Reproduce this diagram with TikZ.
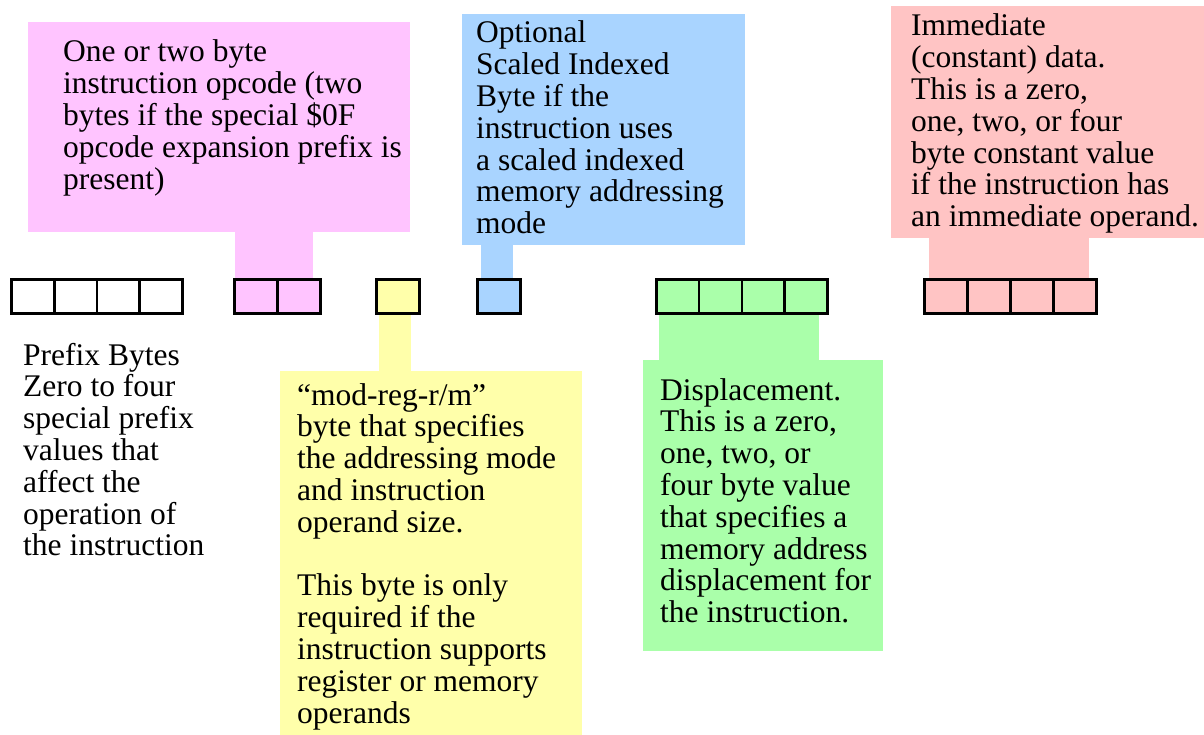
\documentclass[tikz,border=0pt]{standalone}
\usepackage{fontspec}
\setmainfont{Liberation Serif}
\definecolor{cpink}{HTML}{FFC4FF}
\definecolor{cblue}{HTML}{A9D4FF}
\definecolor{cyellow}{HTML}{FFFFAA}
\definecolor{cgreen}{HTML}{AAFFAA}
\definecolor{cred}{HTML}{FFC4C4}
\tikzset{
  bytecell/.style={draw=black, line width=2.5pt, minimum width=43pt, minimum height=34pt, inner sep=0pt, anchor=north west},
  panel/.style={inner sep=0pt, anchor=north west},
  txt/.style={anchor=base west, inner sep=0pt, font=\fontsize{31.5}{31.8}\selectfont},
}
\newcommand{\ptext}[2]{\parbox[t]{#1}{\raggedright #2}}
\begin{document}
\begin{tikzpicture}[x=1pt,y=-1pt]
\useasboundingbox (0,0) rectangle (1204,735);
% callout panels
\node[panel, fill=cpink, minimum width=382pt, minimum height=210pt] (pinkbox) at (28,22) {};
\node[panel, fill=cblue, minimum width=283pt, minimum height=231pt] (bluebox) at (462,14) {};
\node[panel, fill=cred, minimum width=313pt, minimum height=232pt] (redbox) at (891,6) {};
\node[panel, fill=cyellow, minimum width=302pt, minimum height=364pt] (yellowbox) at (280,371) {};
\node[panel, fill=cgreen, minimum width=240pt, minimum height=291pt] (greenbox) at (643,360) {};
% stems
\fill[cpink] (235,232) rectangle (313,280);
\fill[cblue] (481,245) rectangle (513,280);
\fill[cred] (929,238) rectangle (1089,280);
\fill[cyellow] (379,310) rectangle (411,371);
\fill[cgreen] (659,310) rectangle (819,360);
% byte cells
\foreach \i in {0,1,2,3} {
  \node[bytecell] (pre\i) at (10+\i*42.75,278) {};
}
\foreach \i in {0,1} {
  \node[bytecell, fill=cpink] (op\i) at (233+\i*43,278) {};
}
\node[bytecell, fill=cyellow] (modrm) at (375,278) {};
\node[bytecell, fill=cblue] (sib) at (476,278) {};
\foreach \i in {0,1,2,3} {
  \node[bytecell, fill=cgreen] (disp\i) at (655+\i*42.75,278) {};
  \node[bytecell, fill=cred] (imm\i) at (923+\i*43,278) {};
}
% texts
\node[txt] (pinktxt) at (63,62) {\ptext{360pt}{One or two byte\\instruction opcode (two\\bytes if the special \$0F\\opcode expansion prefix is\\present)}};
\node[txt] (bluetxt) at (476,43) {\ptext{270pt}{Optional\\Scaled Indexed\\Byte if the\\instruction uses\\a scaled indexed\\memory addressing\\mode}};
\node[txt] (redtxt) at (911,36) {\ptext{300pt}{Immediate\\(constant) data.\\This is a zero,\\one, two, or four\\byte constant value\\if the instruction has\\an immediate operand.}};
\node[txt] (pretxt) at (23,365) {\ptext{250pt}{Prefix Bytes\\Zero to four\\special prefix\\values that\\affect the\\operation of\\the instruction}};
\node[txt] (yellowtxt) at (297,405) {\ptext{285pt}{“mod-reg-r/m”\\byte that specifies\\the addressing mode\\and instruction\\operand size.\\[31.8pt]This byte is only\\required if the\\instruction supports\\register or memory\\operands}};
\node[txt] (greentxt) at (660,400) {\ptext{225pt}{Displacement.\\This is a zero,\\one, two, or\\four byte value\\that specifies a\\memory address\\displacement for\\the instruction.}};
\end{tikzpicture}
\end{document}
